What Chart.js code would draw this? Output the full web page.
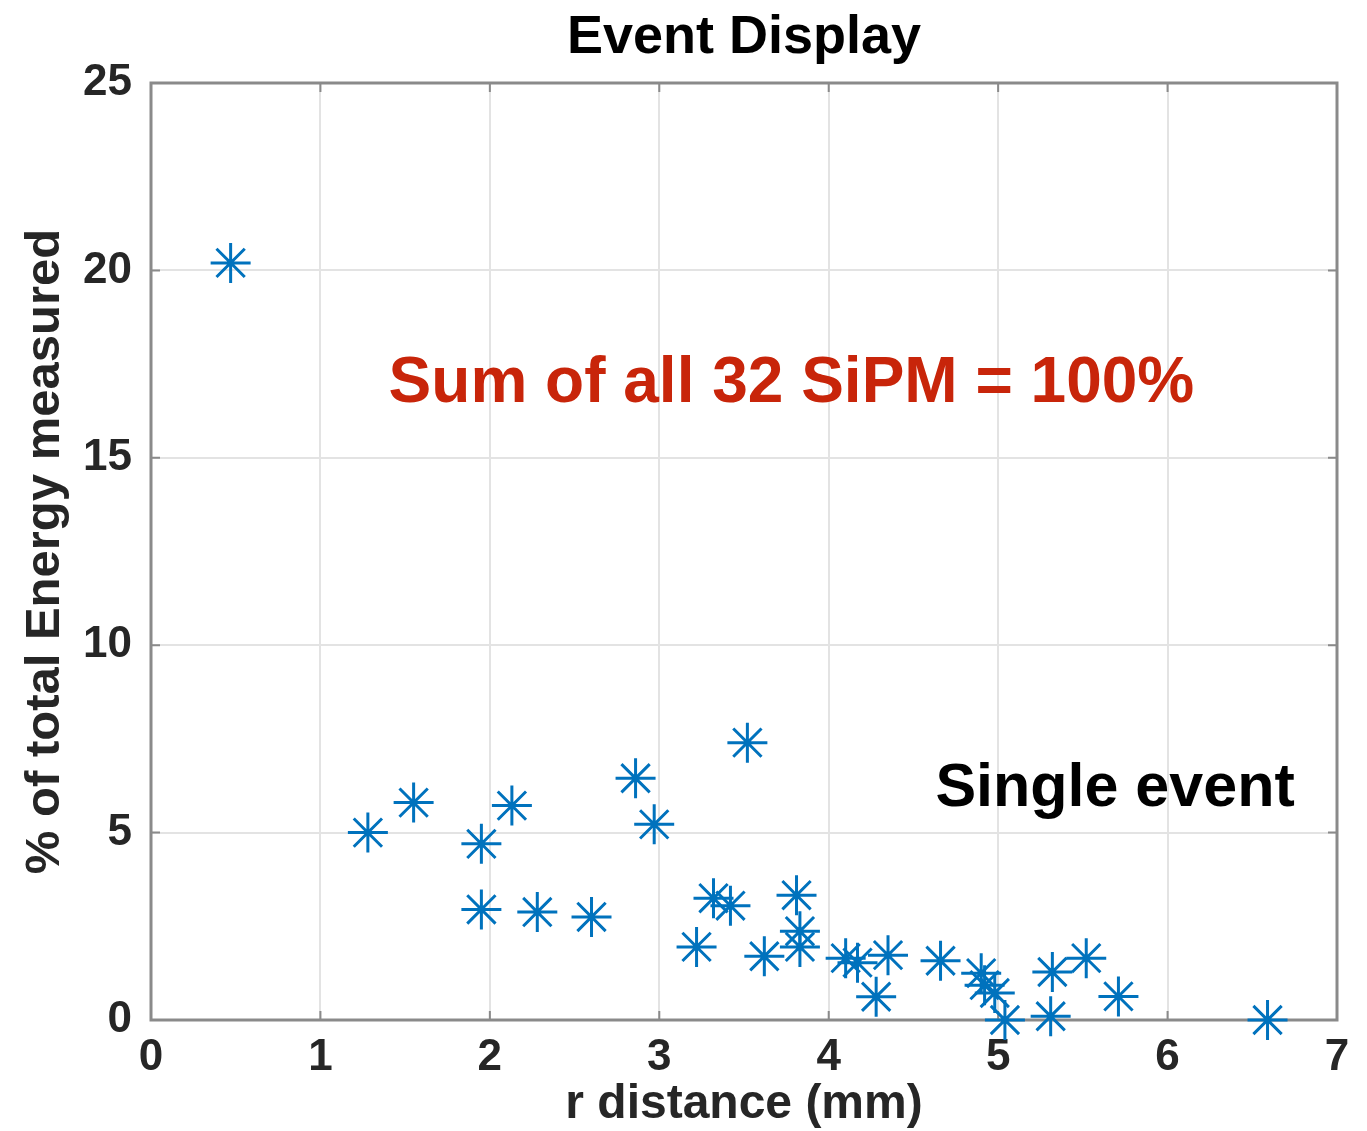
<!DOCTYPE html>
<html>
<head>
<meta charset="utf-8">
<title>Event Display</title>
<script src="https://cdn.jsdelivr.net/npm/chart.js@4"></script>
<style>
  html, body { margin: 0; padding: 0; background: #fff; }
  #wrap { width: 1367px; height: 1131px; }
</style>
</head>
<body>
<div id="wrap"><canvas id="myChart" width="1367" height="1131"></canvas></div>
<script>
// r distance (mm) and % of total energy per SiPM
const rDistance = [
  0.47, 1.28, 1.55, 1.95, 1.95, 2.13, 2.28, 2.60, 2.86, 2.97,
  3.52, 3.22, 3.32, 3.42, 3.62, 3.81, 3.83, 3.83, 4.10, 4.17,
  4.35, 4.28, 4.66, 4.90, 4.92, 4.98, 5.04, 5.31, 5.32, 5.52,
  5.71, 6.59
];
const energyPct = [
  20.2, 5.0, 5.8, 4.7, 2.95, 5.72, 2.88, 2.75, 6.45, 5.22,
  7.4, 1.95, 3.25, 3.05, 1.7, 3.33, 2.37, 1.95, 1.65, 1.53,
  1.73, 0.62, 1.58, 1.25, 0.93, 0.72, 0.0, 0.1, 1.28, 1.65,
  0.63, 0.0
];
const xTicks = [0, 1, 2, 3, 4, 5, 6, 7];
const yTicks = [0, 5, 10, 15, 20, 25];

const notes = [
  { text: 'Sum of all 32 SiPM = 100%', x: 3.78, y: 16.5, size: 64, color: '#c8250a' },
  { text: 'Single event', x: 5.69, y: 5.72, size: 61, color: '#000000' }
];

const FONT = '"Liberation Sans", Arial, Helvetica, sans-serif';

const points = rDistance.map((r, i) => ({ x: r, y: energyPct[i] }));

// box around the axes + short inward ticks, like a matlab figure
const boxPlugin = {
  id: 'box',
  beforeDatasetsDraw(chart) {
    const { ctx, chartArea: a, scales } = chart;
    ctx.save();
    ctx.strokeStyle = '#8a8a8a';
    ctx.lineWidth = 3;
    ctx.strokeRect(a.left, a.top, a.right - a.left, a.bottom - a.top);
    ctx.lineWidth = 2;
    ctx.beginPath();
    xTicks.forEach(v => {
      const px = scales.x.getPixelForValue(v);
      ctx.moveTo(px, a.bottom); ctx.lineTo(px, a.bottom - 9);
      ctx.moveTo(px, a.top); ctx.lineTo(px, a.top + 9);
    });
    yTicks.forEach(v => {
      const py = scales.y.getPixelForValue(v);
      ctx.moveTo(a.left, py); ctx.lineTo(a.left + 9, py);
      ctx.moveTo(a.right, py); ctx.lineTo(a.right - 9, py);
    });
    ctx.stroke();
    ctx.restore();
  },
  afterDatasetsDraw(chart) {
    const { ctx, scales } = chart;
    ctx.save();
    ctx.textAlign = 'center';
    ctx.textBaseline = 'alphabetic';
    notes.forEach(n => {
      ctx.font = 'bold ' + n.size + 'px ' + FONT;
      ctx.fillStyle = n.color;
      ctx.fillText(n.text, scales.x.getPixelForValue(n.x), scales.y.getPixelForValue(n.y));
    });
    ctx.restore();
  }
};

const config = {
  type: 'scatter',
  data: {
    datasets: [{
      label: 'SiPM',
      data: points,
      pointStyle: 'star',
      pointRadius: 20,
      pointHoverRadius: 20,
      pointBorderWidth: 3,
      borderColor: '#0072bd',
      backgroundColor: '#0072bd',
      clip: false
    }]
  },
  options: {
    responsive: false,
    animation: false,
    events: [],
    layout: { padding: { left: 0, right: 30, top: 0, bottom: 0 } },
    plugins: {
      legend: { display: false },
      tooltip: { enabled: false },
      title: {
        display: true,
        fullSize: false,
        text: 'Event Display',
        color: '#000',
        font: { family: FONT, size: 54, weight: 'bold', lineHeight: 1 },
        padding: { top: 11, bottom: 18 }
      }
    },
    scales: {
      x: {
        type: 'linear',
        min: 0,
        max: 7,
        afterBuildTicks(scale) { scale.ticks = xTicks.map(v => ({ value: v })); },
        afterFit(scale) { scale.height = 111; },
        ticks: {
          color: '#262626',
          font: { family: FONT, size: 44, weight: 'bold' },
          padding: 11,
          maxRotation: 0
        },
        grid: { color: '#e3e3e3', lineWidth: 2, drawTicks: false },
        border: { display: false },
        title: {
          display: true,
          text: 'r distance (mm)',
          color: '#262626',
          font: { family: FONT, size: 48, weight: 'bold', lineHeight: 1 },
          padding: { top: 0, bottom: 2 }
        }
      },
      y: {
        type: 'linear',
        min: 0,
        max: 25,
        afterBuildTicks(scale) { scale.ticks = yTicks.map(v => ({ value: v })); },
        afterFit(scale) { scale.width = 151; },
        ticks: {
          color: '#262626',
          font: { family: FONT, size: 44, weight: 'bold' },
          padding: 19
        },
        grid: { color: '#e3e3e3', lineWidth: 2, drawTicks: false },
        border: { display: false },
        title: {
          display: true,
          text: '% of total Energy measured',
          color: '#262626',
          font: { family: FONT, size: 49, weight: 'bold', lineHeight: 1 },
          padding: { top: 21, bottom: 0 }
        }
      }
    }
  },
  plugins: [boxPlugin]
};

const myChart = new Chart(document.getElementById('myChart'), config);
</script>
</body>
</html>
